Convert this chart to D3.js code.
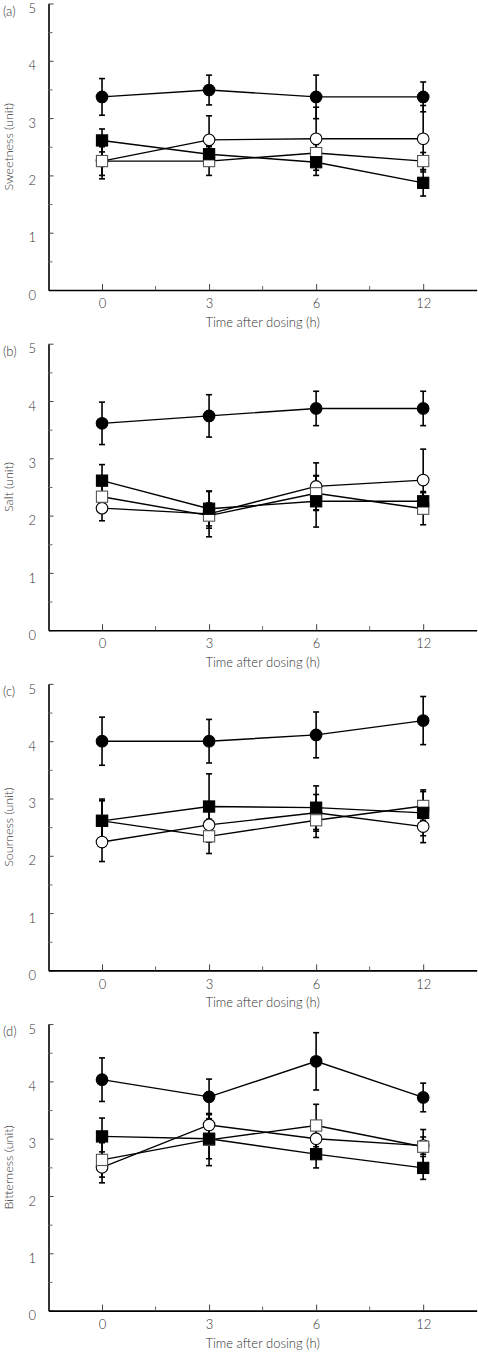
<!DOCTYPE html>
<html>
<head>
<meta charset="utf-8">
<script src="https://cdn.jsdelivr.net/npm/d3@7"></script>
<style>
  html, body { margin: 0; padding: 0; background: #fff; }
  text { font-family: Lato, "Open Sans", sans-serif; font-weight: 300; fill: #333; }
</style>
</head>
<body>
<svg id="chart" width="478" height="1352"></svg>
<script>
// ---- data ----
const timeLabels = ["0", "3", "6", "12"];
const yTicks = [0, 1, 2, 3, 4, 5];
const panelLetters = ["(a)", "(b)", "(c)", "(d)"];
const yTitles = ["Sweetness (unit)", "Salt (unit)", "Sourness (unit)", "Bitterness (unit)"];
const xTitle = "Time after dosing (h)";

// means per panel: [panel a, b, c, d]
const filledCircleMean = [[3.37, 3.49, 3.37, 3.37], [3.61, 3.74, 3.87, 3.87], [4.00, 4.00, 4.11, 4.36], [4.03, 3.73, 4.35, 3.72]];
const filledCircleSE   = [[0.32, 0.26, 0.38, 0.26], [0.37, 0.37, 0.30, 0.30], [0.42, 0.38, 0.40, 0.42], [0.38, 0.31, 0.50, 0.25]];
const openCircleMean   = [[2.25, 2.62, 2.64, 2.64], [2.13, 2.03, 2.51, 2.62], [2.24, 2.54, 2.75, 2.51], [2.50, 3.24, 3.00, 2.88]];
const openCircleSE     = [[0.31, 0.42, 0.55, 0.58], [0.22, 0.40, 0.41, 0.54], [0.34, 0.30, 0.32, 0.28], [0.27, 0.20, 0.20, 0.15]];
const openSquareMean   = [[2.25, 2.25, 2.39, 2.25], [2.33, 2.00, 2.39, 2.12], [2.61, 2.34, 2.62, 2.87], [2.63, 2.98, 3.23, 2.86]];
const openSquareSE     = [[0.25, 0.25, 0.15, 0.15], [0.20, 0.22, 0.30, 0.28], [0.35, 0.30, 0.30, 0.25], [0.30, 0.45, 0.37, 0.30]];
const filledSquareMean = [[2.61, 2.37, 2.23, 1.87], [2.61, 2.12, 2.25, 2.25], [2.61, 2.86, 2.84, 2.75], [3.04, 3.00, 2.73, 2.49]];
const filledSquareSE   = [[0.20, 0.15, 0.23, 0.23], [0.28, 0.30, 0.45, 0.17], [0.38, 0.57, 0.38, 0.40], [0.32, 0.35, 0.24, 0.20]];

// drawing order (bottom to top)
const seriesDefs = [
  { name: "openCircle",   mean: openCircleMean,   se: openCircleSE,   shape: "circle", fill: "#fff" },
  { name: "openSquare",   mean: openSquareMean,   se: openSquareSE,   shape: "square", fill: "#fff" },
  { name: "filledSquare", mean: filledSquareMean, se: filledSquareSE, shape: "square", fill: "#000" },
  { name: "filledCircle", mean: filledCircleMean, se: filledCircleSE, shape: "circle", fill: "#000" }
];

// ---- layout ----
const svg = d3.select("#chart");
svg.append("rect").attr("width", 478).attr("height", 1352).attr("fill", "#fff");

const axisLeftX = 48.5, axisRightX = 476.7;
const firstZero = 290, panelStep = 340.2, unitPx = 57.3;

const x = d3.scalePoint().domain(timeLabels).range([axisLeftX, axisRightX]).padding(0.5);
const minorX = timeLabels.slice(0, -1).map((d, i) => (x(d) + x(timeLabels[i + 1])) / 2);

panelLetters.forEach((letter, p) => {
  const zero = firstZero + p * panelStep;
  const y = d3.scaleLinear().domain([0, 5]).range([zero, zero - 5 * unitPx]);
  const g = svg.append("g");

  // y axis (major)
  const yAx = g.append("g").attr("transform", `translate(${axisLeftX},0)`)
    .call(d3.axisLeft(y).tickValues(yTicks).tickFormat(d3.format("d"))
      .tickSizeInner(-5).tickSizeOuter(0).tickPadding(12.5));
  yAx.select(".domain").attr("stroke", "#000").attr("stroke-width", 1.6);
  yAx.selectAll(".tick line").attr("stroke", "#444").attr("stroke-width", 1);
  yAx.selectAll(".tick text").attr("font-size", 13).attr("font-family", null).attr("fill", null)
    .attr("transform", "translate(0,5)");
  // y minor ticks
  const yMinor = g.append("g").attr("transform", `translate(${axisLeftX},0)`)
    .call(d3.axisLeft(y).tickValues([0.5, 1.5, 2.5, 3.5, 4.5]).tickFormat("")
      .tickSizeInner(-4).tickSizeOuter(0));
  yMinor.select(".domain").remove();
  yMinor.selectAll(".tick line").attr("stroke", "#666").attr("stroke-width", 1);

  // x axis (major)
  const xAx = g.append("g").attr("transform", `translate(0,${zero})`)
    .call(d3.axisBottom(x).tickSizeInner(-6).tickSizeOuter(0).tickPadding(9));
  xAx.select(".domain").attr("stroke", "#000").attr("stroke-width", 1.6);
  xAx.selectAll(".tick line").attr("stroke", "#444").attr("stroke-width", 1);
  xAx.selectAll(".tick text").attr("font-size", 13).attr("font-family", null).attr("fill", null);
  // x minor ticks
  g.append("g").selectAll("line").data(minorX).join("line")
    .attr("x1", d => d).attr("x2", d => d)
    .attr("y1", zero).attr("y2", zero - 4)
    .attr("stroke", "#666").attr("stroke-width", 1);

  // titles
  g.append("text").attr("x", 3).attr("y", zero - 5 * unitPx + 12)
    .attr("font-size", 13).text(letter);
  g.append("text").attr("transform", `translate(13,${y(2.5)}) rotate(-90)`)
    .attr("text-anchor", "middle").attr("font-size", 12.5).text(yTitles[p]);
  g.append("text").attr("x", (axisLeftX + axisRightX) / 2).attr("y", zero + 37)
    .attr("text-anchor", "middle").attr("font-size", 13).text(xTitle);

  // lines
  const line = d3.line().x((d, i) => x(timeLabels[i])).y(d => y(d));
  seriesDefs.forEach(s => {
    g.append("path").datum(s.mean[p]).attr("d", line)
      .attr("fill", "none").attr("stroke", "#000").attr("stroke-width", 1.4);
  });

  // error bars
  seriesDefs.forEach(s => {
    const pts = s.mean[p].map((m, i) => ({ t: timeLabels[i], m, e: s.se[p][i] }));
    const eb = g.append("g");
    eb.selectAll("line.v").data(pts).join("line").attr("class", "v")
      .attr("x1", d => x(d.t)).attr("x2", d => x(d.t))
      .attr("y1", d => y(d.m + d.e)).attr("y2", d => y(d.m - d.e))
      .attr("stroke", "#000").attr("stroke-width", 1.6);
    eb.selectAll("line.cu").data(pts).join("line").attr("class", "cu")
      .attr("x1", d => x(d.t) - 3).attr("x2", d => x(d.t) + 3)
      .attr("y1", d => y(d.m + d.e)).attr("y2", d => y(d.m + d.e))
      .attr("stroke", "#000").attr("stroke-width", 1.6);
    eb.selectAll("line.cd").data(pts).join("line").attr("class", "cd")
      .attr("x1", d => x(d.t) - 3).attr("x2", d => x(d.t) + 3)
      .attr("y1", d => y(d.m - d.e)).attr("y2", d => y(d.m - d.e))
      .attr("stroke", "#000").attr("stroke-width", 1.6);
  });

  // markers
  seriesDefs.forEach(s => {
    const pts = s.mean[p].map((m, i) => ({ t: timeLabels[i], m }));
    const mg = g.append("g");
    if (s.shape === "circle") {
      mg.selectAll("circle").data(pts).join("circle")
        .attr("cx", d => x(d.t)).attr("cy", d => y(d.m)).attr("r", 5.8)
        .attr("fill", s.fill).attr("stroke", "#000").attr("stroke-width", 1.1);
    } else {
      mg.selectAll("rect").data(pts).join("rect")
        .attr("x", d => x(d.t) - 5.6).attr("y", d => y(d.m) - 5.6)
        .attr("width", 11.2).attr("height", 11.2)
        .attr("fill", s.fill).attr("stroke", s.fill === "#000" ? "#000" : "#555").attr("stroke-width", 1.1);
    }
  });
});
</script>
</body>
</html>
